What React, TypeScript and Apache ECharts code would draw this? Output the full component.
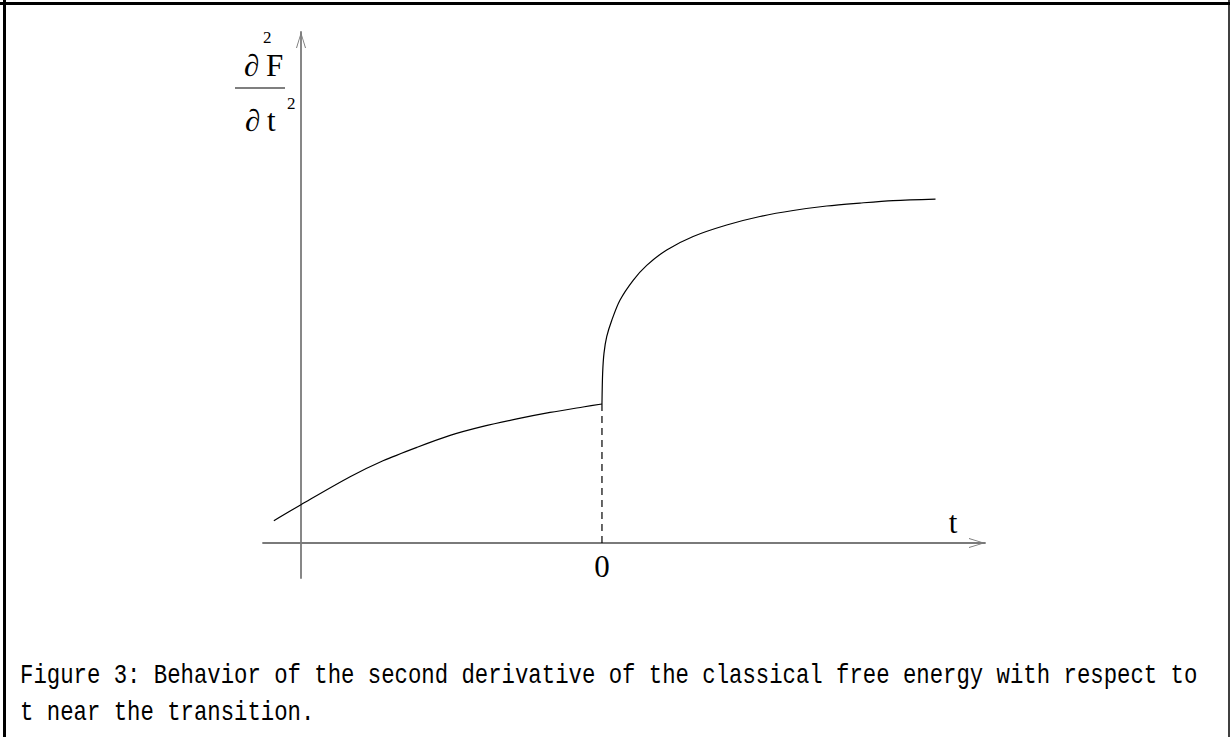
import React, { useEffect, useRef } from 'react';
import * as echarts from 'echarts';

// Curve below the transition (t < 0)
const leftT = [-9.68, -8.88, -7.43, -6.46, -5.46, -4.48, -3.51, -2.51, -1.53, -0.56, 0];
const leftY = [0.45, 0.77, 1.33, 1.65, 1.92, 2.16, 2.34, 2.49, 2.62, 2.73, 2.79];
// Curve above the transition (t > 0)
const rightT = [0, 0.02, 0.06, 0.14, 0.29, 0.53, 0.92, 1.32, 1.91, 2.69, 3.68, 4.66, 5.64, 6.63, 7.61, 8.59, 9.84];
const rightY = [2.79, 3.41, 3.81, 4.14, 4.47, 4.87, 5.27, 5.57, 5.88, 6.15, 6.38, 6.55, 6.67, 6.76, 6.82, 6.87, 6.9];
// Dashed drop line at the transition
const dropT = [0, 0];
const dropY = [0, 2.79];
const xTickLabels = [0];

const captionLines = [
  'Figure 3: Behavior of the second derivative of the classical free energy with respect to',
  't near the transition.',
];

const chevron = 'path://M0,16 L5,0 L10,16 L9,16 L5,2.6 L1,16 Z';
const serif = "'Liberation Serif', 'DejaVu Serif', serif";
const mono = "'Liberation Mono', 'DejaVu Sans Mono', monospace";
const axisGray = '#7a7a7a';

const zip = (a: number[], b: number[]) => a.map((v, i) => [v, b[i]]);

export default function App() {
  const ref = useRef<HTMLDivElement>(null);
  useEffect(() => {
    if (!ref.current) return;
    const chart = echarts.init(ref.current, null, { renderer: 'svg' });
    const lineStyle = { color: '#000', width: 1.2 };
    chart.setOption({
      animation: false,
      backgroundColor: '#fff',
      grid: { left: 263, right: 245, top: 32, bottom: 159, outerBoundsMode: 'none' },
      xAxis: {
        type: 'value',
        min: -10,
        max: 11.3,
        axisLine: {
          onZero: true,
          symbol: ['none', chevron],
          symbolSize: [10, 16],
          symbolOffset: [0, -8],
          lineStyle: { color: axisGray, width: 1.8 },
        },
        axisTick: { show: false },
        splitLine: { show: false },
        axisLabel: {
          customValues: xTickLabels,
          fontSize: 31,
          fontFamily: serif,
          color: '#000',
          margin: -27,
        },
      },
      yAxis: {
        type: 'value',
        min: -0.7,
        max: 10.25,
        offset: -38,
        axisLine: {
          show: true,
          onZero: false,
          symbol: ['none', chevron],
          symbolSize: [11, 16],
          symbolOffset: [0, -8],
          lineStyle: { color: axisGray, width: 1.8 },
        },
        axisTick: { show: false },
        splitLine: { show: false },
        axisLabel: { show: false },
      },
      series: [
        {
          type: 'line',
          data: zip(leftT, leftY),
          showSymbol: false,
          smooth: 0.3,
          lineStyle,
        },
        {
          type: 'line',
          data: zip(rightT, rightY),
          showSymbol: false,
          smooth: 0.3,
          lineStyle,
        },
        {
          type: 'line',
          data: zip(dropT, dropY),
          showSymbol: false,
          lineStyle: { color: '#000', width: 1.2, type: [7, 5] },
        },
      ],
      graphic: [
        // page frame
        { type: 'line', shape: { x1: 4.5, y1: 0, x2: 4.5, y2: 737 }, style: { stroke: '#000', lineWidth: 3 } },
        { type: 'line', shape: { x1: 0, y1: 3.5, x2: 1230, y2: 3.5 }, style: { stroke: '#000', lineWidth: 3 } },
        { type: 'line', shape: { x1: 1229, y1: 0, x2: 1229, y2: 737 }, style: { stroke: '#000', lineWidth: 1.5 } },
        // y-axis label: d^2F / dt^2
        { type: 'text', x: 244, y: 65.5, style: { text: '∂', font: `31px ${serif}`, fill: '#000', verticalAlign: 'middle', align: 'left' } },
        { type: 'text', x: 263, y: 37.5, style: { text: '2', font: `17px ${serif}`, fill: '#000', verticalAlign: 'middle', align: 'left' } },
        { type: 'text', x: 266, y: 65.5, style: { text: 'F', font: `31px ${serif}`, fill: '#000', verticalAlign: 'middle', align: 'left' } },
        { type: 'line', shape: { x1: 235, y1: 88, x2: 285, y2: 88 }, style: { stroke: '#000', lineWidth: 1.2 } },
        { type: 'text', x: 245, y: 120.5, style: { text: '∂', font: `31px ${serif}`, fill: '#000', verticalAlign: 'middle', align: 'left' } },
        { type: 'text', x: 267, y: 120.5, style: { text: 't', font: `31px ${serif}`, fill: '#000', verticalAlign: 'middle', align: 'left' } },
        { type: 'text', x: 287, y: 103, style: { text: '2', font: `17px ${serif}`, fill: '#000', verticalAlign: 'middle', align: 'left' } },
        // x-axis name
        { type: 'text', x: 953, y: 522.5, style: { text: 't', font: `31px ${serif}`, fill: '#000', verticalAlign: 'middle', align: 'center' } },
        // caption
        { type: 'text', x: 20, y: 676, scaleY: 1.25, style: { text: captionLines[0], font: `22.3px ${mono}`, fill: '#000', verticalAlign: 'middle', align: 'left' } },
        { type: 'text', x: 20, y: 712.5, scaleY: 1.25, style: { text: captionLines[1], font: `22.3px ${mono}`, fill: '#000', verticalAlign: 'middle', align: 'left' } },
      ],
    });
    return () => chart.dispose();
  }, []);
  return (
    <div
      ref={ref}
      style={{ position: 'fixed', left: 0, top: 0, width: 1230, height: 737, background: '#fff' }}
    />
  );
}
